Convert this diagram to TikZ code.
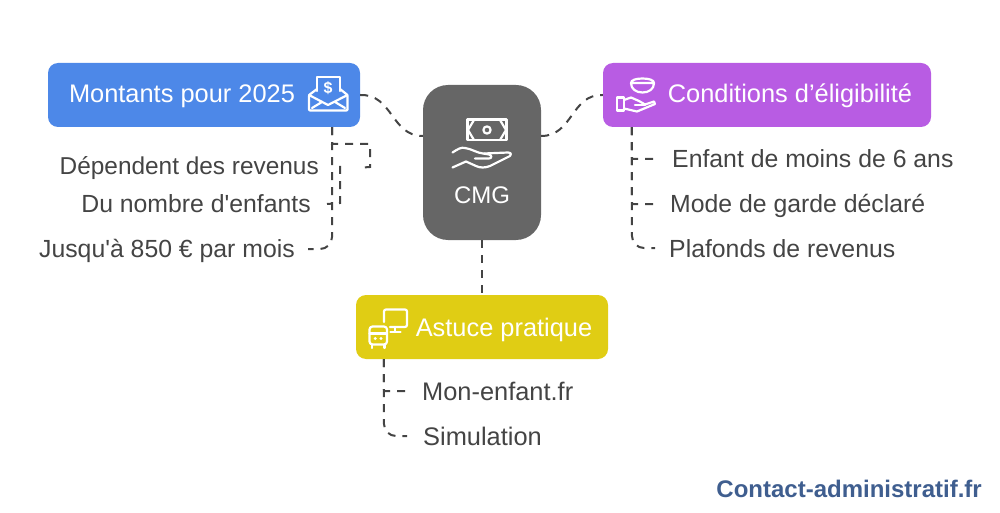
\documentclass[tikz,border=0pt]{standalone}
\usepackage{fontspec}
\setmainfont{Liberation Sans}[Ligatures=TeXOff]
\usetikzlibrary{calc}
\definecolor{montantblue}{HTML}{4D88E8}
\definecolor{condpurple}{HTML}{B85CE3}
\definecolor{astuceyellow}{HTML}{E0CD14}
\definecolor{cmggray}{HTML}{666666}
\definecolor{inkgray}{HTML}{444444}
\definecolor{siteblue}{HTML}{3F5E8F}
\tikzset{
  box/.style={fill=#1, rounded corners=10pt, inner sep=0pt, minimum height=64pt},
  boxtext/.style={text=white, font=\fontsize{25.4}{28}\selectfont, inner sep=0pt, anchor=base},
  item/.style={text=inkgray, font=\fontsize{24.8}{28}\selectfont, inner sep=0pt},
  link/.style={draw=inkgray, line width=2pt, dash pattern=on 8pt off 7pt},
  icon/.style={draw=white, line width=2.2pt, line join=round, line cap=round}
}
\begin{document}
\begin{tikzpicture}[x=1pt, y=-1pt]
\useasboundingbox (0,0) rectangle (1000,513);

% boxes
\node[box=montantblue, minimum width=312pt] (montants) at (204,95) {};
\node[box=condpurple, minimum width=328pt] (conditions) at (767,95) {};
\node[box=astuceyellow, minimum width=252pt] (astuce) at (482,327) {};
\node[fill=cmggray, rounded corners=25pt, minimum width=118pt, minimum height=155pt, inner sep=0pt] (cmg) at (482,162.5) {};

\node[boxtext] (montantslabel) at (182,103) {Montants pour 2025};
\node[boxtext] (conditionslabel) at (790,103) {Conditions d’éligibilité};
\node[boxtext] (astucelabel) at (504,336) {Astuce pratique};
\node[boxtext, font=\fontsize{24}{28}\selectfont] (cmglabel) at (482,204) {CMG};

% items
\node[item, anchor=base east, font=\fontsize{24.4}{28}\selectfont] (revenus) at (319,174.5) {Dépendent des revenus};
\node[item, anchor=base east] (nombre) at (311,212) {Du nombre d'enfants};
\node[item, anchor=base east] (jusqua) at (295,257.5) {Jusqu'à 850 € par mois};
\node[item, anchor=base west] (enfant) at (672,167.5) {Enfant de moins de 6 ans};
\node[item, anchor=base west] (garde) at (670,212.5) {Mode de garde déclaré};
\node[item, anchor=base west] (plafonds) at (669,257) {Plafonds de revenus};
\node[item, anchor=base west, font=\fontsize{25.4}{28}\selectfont] (monenfant) at (422,400) {Mon-enfant.fr};
\node[item, anchor=base west, font=\fontsize{25.4}{28}\selectfont] (simulation) at (423,445) {Simulation};
\node[text=siteblue, font=\bfseries\fontsize{24}{28}\selectfont, inner sep=0pt, anchor=base east] (site) at (982,497) {Contact-administratif.fr};

% links from the centre
\coordinate (cmgleft) at ($(cmg.west)+(0,-26.5)$);
\coordinate (cmgright) at ($(cmg.east)+(0,-26.5)$);
\draw[link] (montants.east) .. controls (393,94) and (391,136) .. (cmgleft);
\draw[link] (cmgright) .. controls (573,136) and (571,94) .. (conditions.west);
\draw[link] (cmg.south) -- (astuce.north);

% left branches
\coordinate (montantsout) at ($(montants.south east)+(-28,0)$);
\draw[link] (montantsout) -- (332,144) -- (370,144) -- (370,167) -- ($(revenus.base east)+(44,-7)$);
\draw[link] (340,166) -- (340,203) -- ($(nombre.base east)+(16,-8)$);
\draw[link, rounded corners=12pt] (montantsout) -- (332,249) -- ($(jusqua.base east)+(13,-8.5)$);

% right branches
\coordinate (conditionsout) at ($(conditions.south west)+(29,0)$);
\draw[link] (conditionsout) -- (632,159) -- ($(enfant.base west)+(-15,-8.5)$);
\draw[link] (conditionsout) -- (632,204) -- ($(garde.base west)+(-13,-8.5)$);
\draw[link, rounded corners=12pt] (conditionsout) -- (632,248) -- ($(plafonds.base west)+(-14,-9)$);

% bottom branches
\coordinate (astuceout) at ($(astuce.south west)+(28,0)$);
\draw[link] (astuceout) -- (384,391) -- ($(monenfant.base west)+(-15,-9)$);
\draw[link, rounded corners=12pt] (astuceout) -- (384,436) -- ($(simulation.base west)+(-16,-9)$);

% envelope
\draw[icon] (317,91) -- (317,77) -- (340,77) -- (340,91);
\draw[icon, rounded corners=1pt] (317,89) -- (309,95) -- (309,110.5) -- (347.5,110.5) -- (347.5,95) -- (340,89);
\draw[icon] (309,95) -- (328,105) -- (347.5,95);
\draw[icon] (312,108) -- (322,102);
\draw[icon] (345,108) -- (335,102);
\node[text=white, font=\bfseries\fontsize{16}{16}\selectfont, inner sep=0pt] (dollar) at (328,88) {\$};

% banknote and hand
\draw[icon, line cap=butt] (467.5,119.5) rectangle (506.5,140);
\draw[icon] (474,120) .. controls (471,125) .. (468,130) .. controls (471,135) .. (474,140);
\draw[icon] (500,120) .. controls (503,125) .. (506,130) .. controls (503,135) .. (500,140);
\draw[icon] (487,130) circle (3.6pt);
\draw[icon] (452.5,152.5) .. controls (458,149) and (461,147) .. (465,148) .. controls (472,149) and (477,153) .. (483,153.5) -- (489,154.5) .. controls (492,155) and (492,158.5) .. (489,158.5) -- (475,158.5);
\draw[icon] (484,153.5) -- (508,152.5) .. controls (511,152.5) and (512,155) .. (510,156) -- (490,166) .. controls (485,168) and (480,168) .. (476,166) -- (466,161.5) -- (452.5,167.5);

% bowl and hand
\draw[icon] (631,83) .. controls (631,80) and (636,78.5) .. (642.5,78.5) .. controls (649,78.5) and (654,80) .. (654,83) .. controls (654,89) and (649,92.5) .. (642.5,92.5) .. controls (636,92.5) and (631,89) .. (631,83) -- (654,83);
\draw[icon] (617,97.5) rectangle (624,110.5);
\draw[icon] (624,100) -- (631,97.5) -- (639,101) -- (645,104.5) -- (654,101.5) -- (655,104) -- (637,111.5) -- (624,108.5);
\draw[icon] (635,105) -- (645,105);

% monitor and bus
\draw[icon, rounded corners=2pt] (384,322) -- (384,309.5) -- (407,309.5) -- (407,327) -- (390,327);
\draw[icon] (395,327) -- (395,332);
\draw[icon] (390.5,332) -- (400.5,332);
\draw[icon, rounded corners=3pt] (369.5,326.5) rectangle (387,344.5);
\draw[icon] (369.5,333.5) -- (387,333.5);
\fill[white] (375.3,338.5) circle (1.6pt) (381,338.5) circle (1.6pt);
\draw[icon] (372,344.5) -- (372,348);
\draw[icon] (384.5,344.5) -- (384.5,348);
\end{tikzpicture}
\end{document}
